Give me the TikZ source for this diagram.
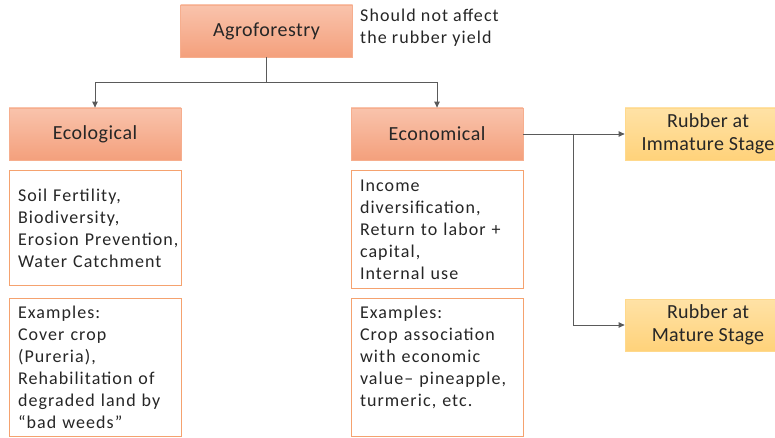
\documentclass[tikz,border=0pt]{standalone}
\usepackage{fontspec}
\setmainfont{Carlito}
\newfontfamily\bodyfont[LetterSpace=6]{Carlito}
\newfontfamily\headfont[LetterSpace=2.5]{Carlito}
\newfontfamily\stagefont[LetterSpace=1.5]{Carlito}
\newcommand\nohyphenhere{\hyphenpenalty=10000 \exhyphenpenalty=10000 \hbadness=10000 \hfuzz=40pt\relax}
\usetikzlibrary{arrows.meta}
\definecolor{salmonT}{HTML}{F9C3AC}
\definecolor{salmonB}{HTML}{F4A07C}
\definecolor{salmonL}{HTML}{F6AE8E}
\definecolor{orangeL}{HTML}{F5A26F}
\definecolor{yelT}{HTML}{FFE2A6}
\definecolor{yelB}{HTML}{FFD27A}
\definecolor{yelL}{HTML}{FFD98C}
\definecolor{conn}{HTML}{5A5A5A}
\tikzset{
  head/.style={draw=salmonL, line width=0.8pt, top color=salmonT, bottom color=salmonB,
    minimum width=172pt, minimum height=52pt, inner sep=0pt, font=\headfont\fontsize{20}{22}\selectfont, text=black!85},
  stage/.style={draw=yelL, line width=0.8pt, top color=yelT, bottom color=yelB,
    minimum width=166pt, minimum height=52pt, inner sep=0pt, align=center,
    font=\stagefont\fontsize{20}{23}\selectfont, text=black!85},
  infobox/.style={draw=orangeL, line width=1pt, fill=white, minimum width=172pt,
    inner xsep=9pt, inner ysep=0pt, align=left, text width=154pt,
    font=\bodyfont\fontsize{18}{22}\selectfont\nohyphenhere, text=black!85},
  conline/.style={draw=conn, line width=0.9pt},
  conarrow/.style={conline, -{Triangle[width=5.5pt,length=6pt]}}
}
\begin{document}
\begin{tikzpicture}[x=1pt,y=-1pt]
\useasboundingbox (0,0) rectangle (775,438);
\node[head] (agro) at (266.5,31) {Agroforestry};
\node[anchor=north west, align=left, inner sep=0pt, font=\bodyfont\fontsize{18}{22}\selectfont, text=black!85] (note) at (360,9) {Should not affect\\the rubber yield};
\node[head] (eco) at (95,134) {Ecological};
\node[head] (econ) at (437,134) {Economical};
\node[infobox, minimum height=114pt] (soil) at (95,228) {Soil Fertility,\\Biodiversity,\\\mbox{Erosion Prevention,}\\Water Catchment};
\node[infobox, minimum height=138pt] (ex1) at (95,367) {Examples:\\Cover crop\\(Pureria),\\Rehabilitation of\\degraded land by\\“bad weeds”};
\node[infobox, minimum height=117pt] (inc) at (437,229.5) {Income\\diversification,\\Return to labor +\\capital,\\Internal use};
\node[infobox, minimum height=138pt] (ex2) at (437,367) {Examples:\\Crop association\\with economic\\value– pineapple,\\turmeric, etc.\\\mbox{}};
\node[stage] (imm) at (708,134) {Rubber at\\Immature Stage};
\node[stage] (mat) at (708,325) {Rubber at\\Mature Stage};
\coordinate (split) at (266.5,82);
\coordinate (br) at (573,134);
\draw[conline] (agro.south) -- (split);
\draw[conarrow] (split) -| (eco.north);
\draw[conarrow] (split) -| (econ.north);
\draw[conarrow] (econ.east) -- (imm.west);
\draw[conarrow] (br) |- (mat.west);
\end{tikzpicture}
\end{document}
